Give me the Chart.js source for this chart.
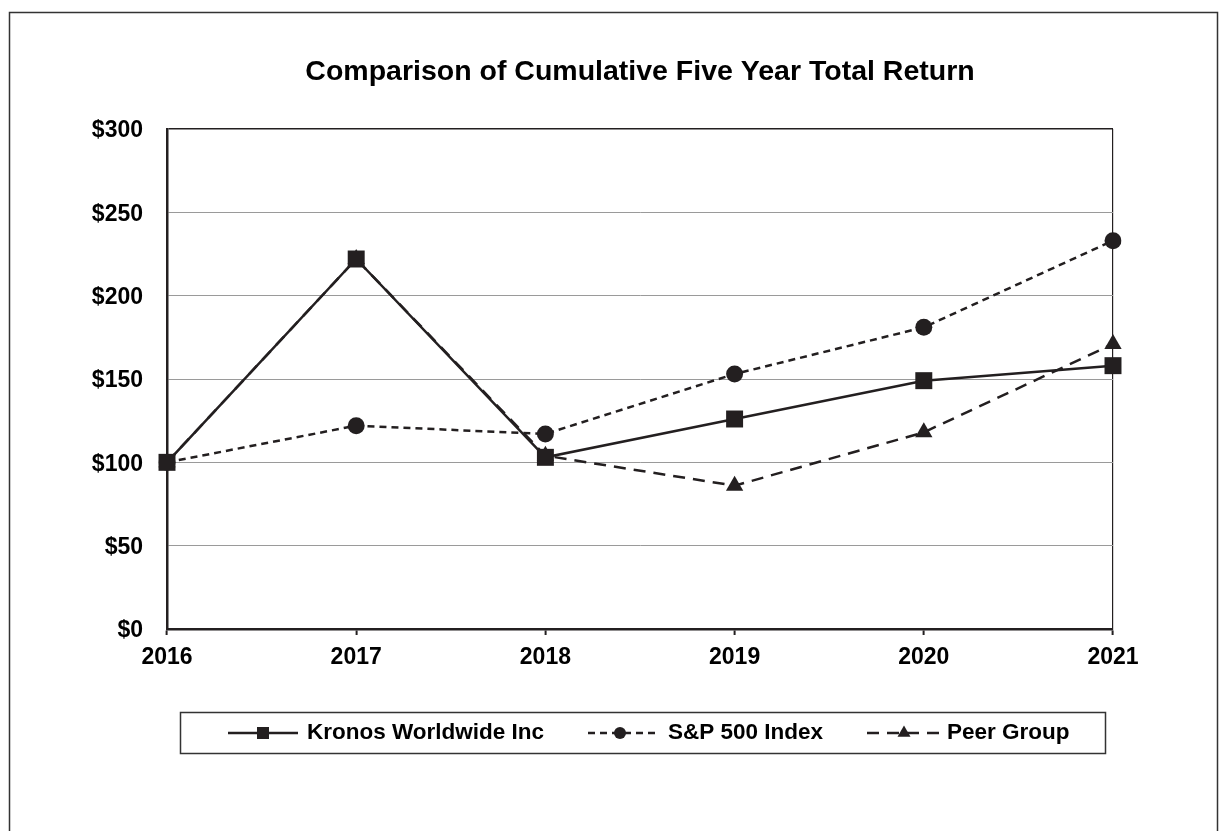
<!DOCTYPE html>
<html><head><meta charset="utf-8">
<script src="https://cdn.jsdelivr.net/npm/chart.js@4.4.0/dist/chart.umd.min.js"></script>
<style>html,body{margin:0;padding:0;background:#fff;}#wrap{width:1226px;height:831px;position:relative;}</style>
</head><body><div id="wrap"><canvas id="c" width="1226" height="831"></canvas></div>
<script>
const title = 'Comparison of Cumulative Five Year Total Return';
const years = ['2016','2017','2018','2019','2020','2021'];
const kronos = [100, 222, 103, 126, 149, 158];
const sp500 = [100, 122, 117, 153, 181, 233];
const peer = [100, 222, 104, 86, 118, 171];
const seriesNames = ['Kronos Worldwide Inc', 'S&P 500 Index', 'Peer Group'];
const yTickValues = [0, 50, 100, 150, 200, 250, 300];
const yTickLabels = ['$0', '$50', '$100', '$150', '$200', '$250', '$300'];

const INK = '#231f20';
const FONT = 'Liberation Sans, Arial, sans-serif';

const framePlugin = {
  id: 'frame',
  afterDraw(chart) {
    const ctx = chart.ctx;
    const ca = chart.chartArea;
    ctx.save();
    ctx.strokeStyle = '#333';
    ctx.lineWidth = 1.5;
    ctx.strokeRect(9.5, 12.5, 1208, 840);
    ctx.fillStyle = '#000';
    ctx.font = 'bold 28.5px ' + FONT;
    ctx.textAlign = 'center';
    ctx.textBaseline = 'middle';
    ctx.fillText(title, (ca.left + ca.right) / 2, 72);
    ctx.strokeStyle = '#333';
    ctx.lineWidth = 1.5;
    ctx.strokeRect(180.5, 712.5, 925, 41);
    const ly = 733;
    const entries = [
      {x0: 228, x1: 298, mx: 263, tx: 307},
      {x0: 588, x1: 655, mx: 620, tx: 668},
      {x0: 867, x1: 942, mx: 904, tx: 947}
    ];
    chart.data.datasets.forEach((ds, i) => {
      const e = entries[i];
      ctx.strokeStyle = ds.borderColor;
      ctx.lineWidth = 2.5;
      ctx.setLineDash(ds.borderDash || []);
      ctx.beginPath(); ctx.moveTo(e.x0, ly); ctx.lineTo(e.x1, ly); ctx.stroke();
      ctx.setLineDash([]);
      ctx.fillStyle = INK;
      Chart.helpers.drawPoint(ctx, {pointStyle: ds.pointStyle, rotation: 0, borderWidth: 0, radius: ds.pointStyle === 'circle' ? 6 : (ds.pointStyle === 'rect' ? 8.5 : 7.5)}, e.mx, ly);
      ctx.fillStyle = '#000';
      ctx.font = 'bold 22.5px ' + FONT;
      ctx.textAlign = 'left';
      ctx.textBaseline = 'middle';
      ctx.fillText(ds.label, e.tx, ly);
    });
    ctx.restore();
  }
};

new Chart(document.getElementById('c'), {
  type: 'line',
  data: {
    labels: years,
    datasets: [
      {label: seriesNames[0], data: kronos, borderColor: INK, backgroundColor: INK, borderWidth: 2.5, pointStyle: 'rect', pointRadius: 12, pointBorderWidth: 0, tension: 0, order: 1},
      {label: seriesNames[1], data: sp500, borderColor: INK, backgroundColor: INK, borderWidth: 2.5, borderDash: [7, 5], pointStyle: 'circle', pointRadius: 8.5, pointBorderWidth: 0, tension: 0, order: 2},
      {label: seriesNames[2], data: peer, borderColor: INK, backgroundColor: INK, borderWidth: 2.5, borderDash: [12, 8], pointStyle: 'triangle', pointRadius: 10, pointBorderWidth: 0, tension: 0, order: 3}
    ]
  },
  options: {
    responsive: false,
    animation: false,
    layout: {padding: {top: 129, left: 0, right: 113, bottom: 162}},
    plugins: {legend: {display: false}, title: {display: false}, tooltip: {enabled: false}},
    scales: {
      x: {
        offset: false,
        afterFit(s) { s.height = 40; },
        grid: {drawOnChartArea: true, color: c => c.index === years.length - 1 ? INK : 'rgba(0,0,0,0)', lineWidth: 1.2, drawTicks: true, tickLength: 6, tickColor: INK, tickWidth: 2},
        border: {display: true, color: INK, width: 2.5},
        ticks: {color: '#000', font: {family: FONT, size: 23, weight: 'bold'}, padding: 9, maxRotation: 0}
      },
      y: {
        min: 0, max: 300,
        afterFit(s) { s.width = 167; },
        afterBuildTicks(s) { s.ticks = yTickValues.map(v => ({value: v})); },
        grid: {color: c => c.tick && c.tick.value === 300 ? INK : '#9a9a9a', lineWidth: c => c.tick && c.tick.value === 300 ? 1.5 : 1, drawTicks: false},
        border: {display: true, color: INK, width: 2.5},
        ticks: {color: '#000', font: {family: FONT, size: 23, weight: 'bold'}, padding: 24, labelOffset: 2, callback: (v) => yTickLabels[yTickValues.indexOf(v)]}
      }
    }
  },
  plugins: [framePlugin]
});
</script>
</body></html>
